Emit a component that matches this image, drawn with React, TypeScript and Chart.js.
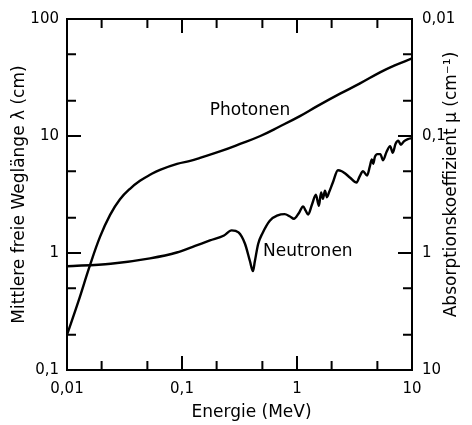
import React, { useEffect, useRef } from 'react';
import { Chart, registerables } from 'chart.js';

Chart.register(...registerables);

// ---- Data ----
const photonEnergy = [0.01, 0.0125, 0.0158, 0.0194, 0.0237, 0.0289, 0.0353, 0.0431, 0.0527, 0.0644, 0.0906, 0.12, 0.1435, 0.22, 0.32, 0.48, 0.7, 1.06, 1.5, 2.37, 3.5, 5.27, 7, 10];
const photonLambda = [0.2, 0.38, 0.78, 1.38, 2.12, 2.88, 3.54, 4.14, 4.66, 5.14, 5.78, 6.15, 6.5, 7.45, 8.55, 10, 12, 14.8, 18, 23, 28, 35, 40, 46];

const neutronEnergy = [0.01, 0.024, 0.0527, 0.09, 0.13, 0.175, 0.232, 0.27, 0.31, 0.353, 0.39, 0.414, 0.43, 0.46, 0.5, 0.58, 0.68, 0.78, 0.87, 0.94, 1.04, 1.13, 1.19, 1.25, 1.35, 1.46, 1.55, 1.62, 1.68, 1.75, 1.82, 1.9, 2.05, 2.27, 2.45, 2.61, 2.9, 3.3, 3.5, 3.75, 4.07, 4.3, 4.47, 4.6, 4.75, 5.0, 5.3, 5.6, 6.0, 6.45, 6.8, 7.2, 7.6, 8.0, 8.5, 9.2, 10];
const neutronLambda = [0.77, 0.81, 0.9, 1.01, 1.15, 1.28, 1.41, 1.56, 1.5, 1.2, 0.85, 0.7, 0.85, 1.2, 1.47, 1.89, 2.1, 2.15, 2.05, 1.96, 2.2, 2.5, 2.3, 2.13, 2.6, 3.15, 2.53, 3.3, 2.9, 3.4, 3.0, 3.3, 4.0, 5.1, 5.0, 4.8, 4.4, 4.0, 4.5, 5.0, 4.6, 5.5, 6.3, 5.8, 6.6, 7.0, 7.0, 6.2, 7.3, 8.2, 7.2, 8.6, 9.1, 8.4, 9.0, 9.4, 9.6];

const xTicks = [0.01, 0.1, 1, 10];
const xTickLabels = ['0,01', '0,1', '1', '10'];
const yTicks = [0.1, 1, 10, 100];
const yTickLabels = ['0,1', '1', '10', '100'];
const muTicks = [0.01, 0.1, 1, 10];
const muTickLabels = ['0,01', '0,1', '1', '10'];
const minorFactors = [2, 5];

const curveLabels = ['Photonen', 'Neutronen'];
const curveLabelEnergy = [0.39, 0.506];
const curveLabelLambda = [16.6, 1.02];

const xTitle = 'Energie (MeV)';
const yTitle = 'Mittlere freie Weglänge λ (cm)';
const y2Title = 'Absorptionskoeffizient μ (cm⁻¹)';

const FONT = '"DejaVu Sans", sans-serif';

const decoPlugin = {
  id: 'deco',
  afterDraw(chart: any) {
    const { ctx, chartArea } = chart;
    const { left, right, top, bottom } = chartArea;
    const xs = chart.scales.x;
    const ys = chart.scales.y;
    ctx.save();
    ctx.strokeStyle = '#000';
    ctx.lineWidth = 2;
    ctx.strokeRect(left, top, right - left, bottom - top);

    const majorLen = 14;
    const minorLen = 9;
    xTicks.forEach((d, i) => {
      const vals: [number, boolean][] = [[d, true]];
      if (i < xTicks.length - 1) minorFactors.forEach((f) => vals.push([d * f, false]));
      vals.forEach(([v, major]) => {
        const px = xs.getPixelForValue(v);
        const len = major ? majorLen : minorLen;
        ctx.beginPath();
        ctx.moveTo(px, bottom);
        ctx.lineTo(px, bottom - len);
        ctx.moveTo(px, top);
        ctx.lineTo(px, top + len);
        ctx.stroke();
      });
    });
    yTicks.forEach((d, i) => {
      const vals: [number, boolean][] = [[d, true]];
      if (i < yTicks.length - 1) minorFactors.forEach((f) => vals.push([d * f, false]));
      vals.forEach(([v, major]) => {
        const py = ys.getPixelForValue(v);
        const len = major ? majorLen : minorLen;
        ctx.beginPath();
        ctx.moveTo(left, py);
        ctx.lineTo(left + len, py);
        ctx.moveTo(right, py);
        ctx.lineTo(right - len, py);
        ctx.stroke();
      });
    });

    ctx.fillStyle = '#000';
    ctx.font = `17px ${FONT}`;
    ctx.textBaseline = 'middle';
    curveLabels.forEach((t, i) => {
      const px = xs.getPixelForValue(curveLabelEnergy[i]);
      const py = ys.getPixelForValue(curveLabelLambda[i]);
      ctx.textAlign = i === 0 ? 'center' : 'left';
      ctx.fillText(t, px, py);
    });
    ctx.textAlign = 'center';
    ctx.fillText(xTitle, (left + right) / 2 + 12, 413);
    ctx.save();
    ctx.translate(20, (top + bottom) / 2);
    ctx.rotate(-Math.PI / 2);
    ctx.fillText(yTitle, 0, 0);
    ctx.restore();
    ctx.save();
    ctx.translate(452, (top + bottom) / 2 - 10);
    ctx.rotate(-Math.PI / 2);
    ctx.fillText(y2Title, 0, 0);
    ctx.restore();
    ctx.restore();
  },
};

export default function App() {
  const ref = useRef<HTMLCanvasElement | null>(null);
  useEffect(() => {
    document.body.style.margin = '0';
    const canvas = ref.current;
    if (!canvas) return;
    const tickFont = { family: FONT, size: 15 };
    const chart = new Chart(canvas, {
      type: 'line',
      data: {
        datasets: [
          {
            label: 'Photonen',
            data: photonEnergy.map((e, i) => ({ x: e, y: photonLambda[i] })),
            borderColor: '#000',
            borderWidth: 2.4,
            pointRadius: 0,
            fill: false,
            tension: 0.4,
          },
          {
            label: 'Neutronen',
            data: neutronEnergy.map((e, i) => ({ x: e, y: neutronLambda[i] })),
            borderColor: '#000',
            borderWidth: 2.4,
            pointRadius: 0,
            fill: false,
            cubicInterpolationMode: 'monotone',
          },
        ],
      },
      options: {
        animation: false,
        responsive: false,
        layout: { padding: { top: 17, left: 0, right: 0, bottom: 0 } },
        plugins: { legend: { display: false }, tooltip: { enabled: false } },
        scales: {
          x: {
            type: 'logarithmic',
            min: 0.01,
            max: 10,
            grid: { display: false, drawTicks: false },
            border: { display: false },
            afterBuildTicks: (s: any) => { s.ticks = xTicks.map((v) => ({ value: v })); },
            afterFit: (s: any) => { s.height = 55; },
            ticks: {
              autoSkip: false,
              maxRotation: 0,
              padding: 10,
              color: '#000',
              font: tickFont,
              callback: (_v: any, i: number) => xTickLabels[i],
            },
          },
          y: {
            type: 'logarithmic',
            position: 'left',
            min: 0.1,
            max: 100,
            grid: { display: false, drawTicks: false },
            border: { display: false },
            afterBuildTicks: (s: any) => { s.ticks = yTicks.map((v) => ({ value: v })); },
            afterFit: (s: any) => { s.width = 67; },
            ticks: {
              autoSkip: false,
              padding: 8,
              color: '#000',
              font: tickFont,
              callback: (_v: any, i: number) => yTickLabels[i],
            },
          },
          y2: {
            type: 'logarithmic',
            position: 'right',
            min: 0.01,
            max: 10,
            reverse: true,
            grid: { display: false, drawTicks: false },
            border: { display: false },
            afterBuildTicks: (s: any) => { s.ticks = muTicks.map((v) => ({ value: v })); },
            afterFit: (s: any) => { s.width = 60; },
            ticks: {
              autoSkip: false,
              padding: 10,
              color: '#000',
              font: tickFont,
              callback: (_v: any, i: number) => muTickLabels[i],
            },
          },
        },
      } as any,
      plugins: [decoPlugin],
    });
    return () => chart.destroy();
  }, []);
  return <canvas ref={ref} width={472} height={425} style={{ display: 'block' }} />;
}
